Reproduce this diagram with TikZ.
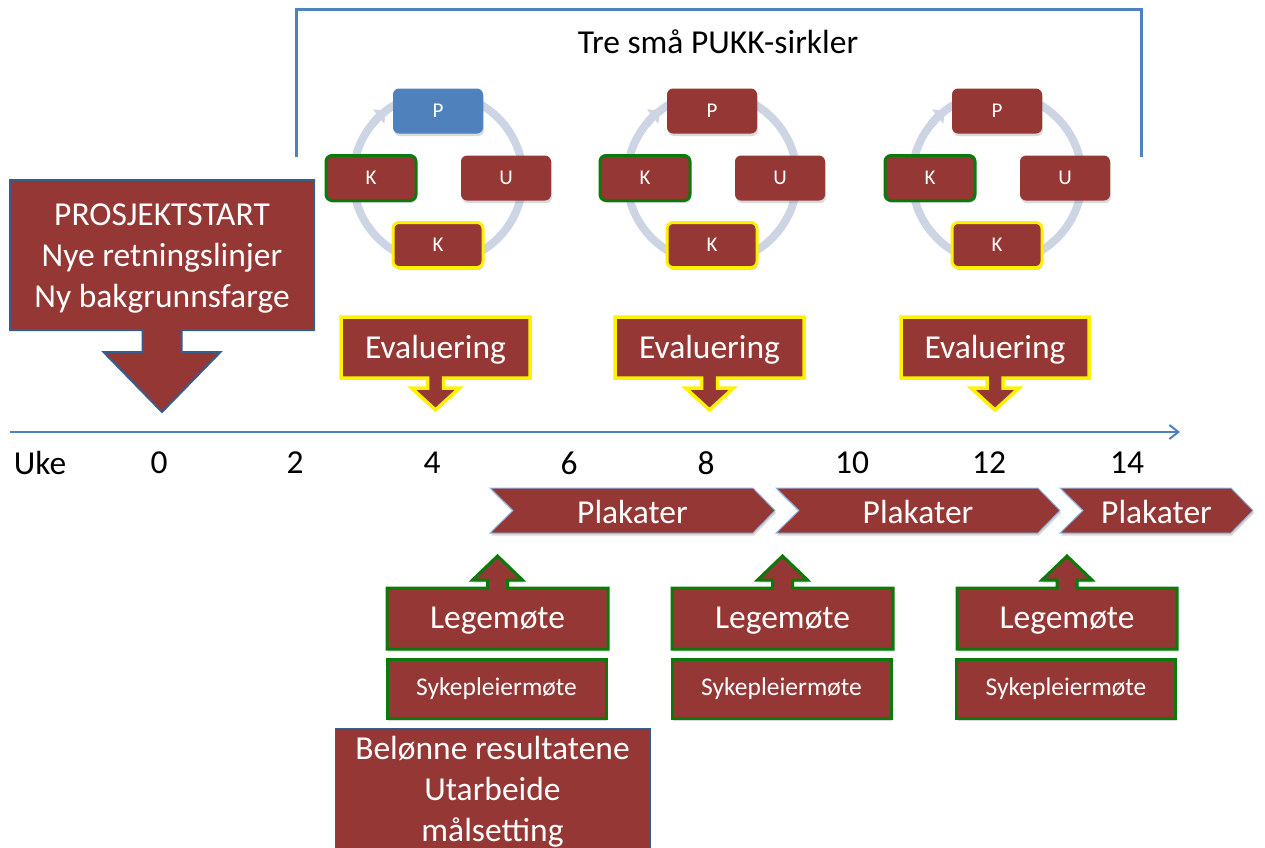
\documentclass[tikz,border=0pt]{standalone}
\usepackage{fontspec}
\setmainfont{Carlito}
\usetikzlibrary{arrows.meta,shadows}
\definecolor{brick}{HTML}{953735}
\definecolor{officeblue}{HTML}{4F81BD}
\definecolor{darkblue}{HTML}{385D8A}
\definecolor{ringgray}{HTML}{CDD4E3}
\definecolor{okgreen}{HTML}{0A7A0A}
\definecolor{lightblue}{HTML}{8EB4E3}
\tikzset{
  big/.style={font=\fontsize{33.5}{41}\selectfont},
  small/.style={font=\fontsize{25.5}{30}\selectfont},
  tiny/.style={font=\fontsize{21}{25}\selectfont},
  softshadow/.style={drop shadow={opacity=0.3,shadow xshift=1pt,shadow yshift=-2.5pt}},
  pukkbox/.style={fill=brick, text=white, rounded corners=6pt, minimum width=90pt,
    minimum height=45pt, inner sep=0pt, tiny, softshadow},
  ring/.style={draw=ringgray, line width=8pt},
  evalcall/.style={fill=brick, draw=yellow, line width=3.5pt, line join=miter},
  meetcall/.style={fill=brick, draw=okgreen, line width=3pt, softshadow},
  chevron/.style={fill=brick, draw=lightblue, line width=1pt, softshadow},
  bluebox/.style={fill=brick, draw=darkblue, line width=1pt},
  bracket/.style={draw=officeblue, line width=3pt},
  timeline/.style={draw=officeblue, line width=2pt, -{Straight Barb[length=9pt,width=14pt]}}
}
\begin{document}
\begin{tikzpicture}[x=1pt,y=-1pt]
\useasboundingbox (0,0) rectangle (1265,847);
% Bracket over the three cycles
\draw[bracket] (296,157) -- (296,9) -- (1141,9) -- (1141,157);
\node[big] (title) at (718,42) {Tre små PUKK-sirkler};
% Three small PUKK cycles
\foreach \cx/\pcol in {438/officeblue, 712/brick, 997/brick} {
  \draw[ring] (\cx,178) circle[radius=85pt];
  \draw[ring, -{Triangle[length=9pt,width=18pt]}] ([shift={(141:85pt)}]\cx,178)
    arc[start angle=141, end angle=128, radius=85pt];
  \node[pukkbox, fill=\pcol] (p\cx) at (\cx,111) {P};
  \node[pukkbox] (u\cx) at (\cx+68,178) {U};
  \node[pukkbox, draw=okgreen, line width=3pt] (kl\cx) at (\cx-67,178) {K};
  \node[pukkbox, draw=yellow, line width=3pt] (kb\cx) at (\cx,245) {K};
}
% Project start
\draw[bluebox, line width=2pt] (10,180) -- (314,180) -- (314,330) -- (181.5,330) -- (181.5,352)
  -- (220.5,352) -- (162,412) -- (103.5,352) -- (142.5,352) -- (142.5,330) -- (10,330) -- cycle;
\node[big, text=white, align=center] (start) at (162,259)
  {PROSJEKTSTART\\Nye retningslinjer\\Ny bakgrunnsfarge};
% Evaluations
\foreach \lx/\rx in {341/530, 615/804, 901/1089} {
  \pgfmathsetmacro\mx{(\lx+\rx)/2}
  \draw[evalcall] (\lx,317) -- (\rx,317) -- (\rx,378) -- (\mx+8,378) -- (\mx+8,388)
    -- (\mx+24,388) -- (\mx,410) -- (\mx-24,388) -- (\mx-8,388) -- (\mx-8,378)
    -- (\lx,378) -- cycle;
  \node[big, text=white] (ev\lx) at (\mx,350) {Evaluering};
}
% Timeline
\coordinate (tstart) at (10,432);
\coordinate (tend) at (1180,432);
\draw[timeline] (tstart) -- (tend);
\node[big] (uke) at (40,463) {Uke};
\foreach \v/\x in {0/159, 2/295, 4/432, 6/569, 8/706, 10/852, 12/989, 14/1127}
  \node[big] (w\v) at (\x,463) {\v};
% Posters
\foreach \lx/\rx in {490/775, 776/1060, 1060/1253} {
  \pgfmathsetmacro\mx{(\lx+\rx)/2}
  \draw[chevron] (\lx,488) -- (\rx-22,488) -- (\rx,510.5) -- (\rx-22,533) -- (\lx,533)
    -- (\lx+23,510.5) -- cycle;
  \node[big, text=white] (pl\lx) at (\mx,512) {Plakater};
}
% Meetings
\foreach \lx/\rx in {387/608, 672/893, 957/1177} {
  \pgfmathsetmacro\mx{(\lx+\rx)/2}
  \draw[meetcall] (\lx,588) -- (\mx-10,588) -- (\mx-10,580) -- (\mx-25,580) -- (\mx,556)
    -- (\mx+25,580) -- (\mx+10,580) -- (\mx+10,588) -- (\rx,588) -- (\rx,649)
    -- (\lx,649) -- cycle;
  \node[big, text=white] (lm\lx) at (\mx,621) {Legemøte};
  \node[meetcall, small, text=white, minimum width=219pt, minimum height=59pt,
    inner sep=0pt] (sp\lx) at (\mx-1,688.5) {Sykepleiermøte};
}
% Reward box
\draw[bluebox] (335,728) rectangle (650,870);
\node[big, text=white, align=center] (reward) at (492.5,792)
  {Belønne resultatene\\Utarbeide\\målsetting};
\end{tikzpicture}
\end{document}
